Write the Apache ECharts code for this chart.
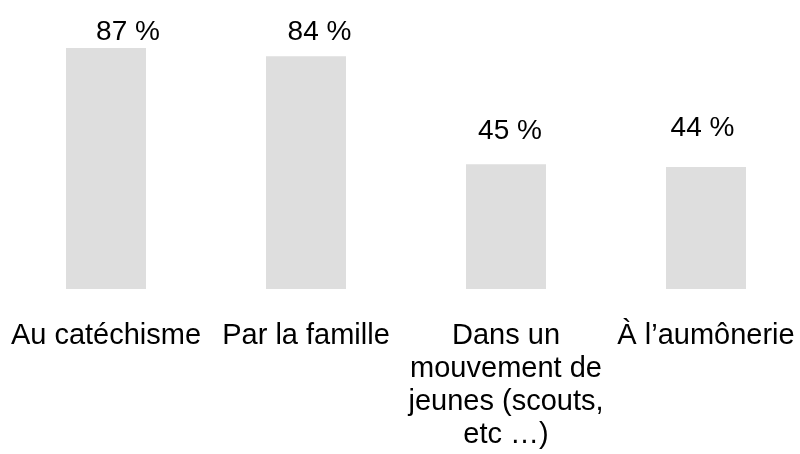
<!DOCTYPE html>
<html>
<head>
<meta charset="utf-8">
<script src="https://cdn.jsdelivr.net/npm/echarts@6/dist/echarts.min.js"></script>
<style>
html, body { margin: 0; padding: 0; background: #fff; }
#chart { width: 800px; height: 454px; }
</style>
</head>
<body>
<div id="chart"></div>
<script>
// données
var categories = ['Au catéchisme', 'Par la famille', 'Dans un\nmouvement de\njeunes (scouts,\netc …)', 'À l’aumônerie'];
var values = [87, 84, 45, 44];
// décalage des étiquettes (placées à la main dans l'original)
var labelOffsets = [[22, 3], [13.5, -5], [4, -14.5], [-3.5, -19.5]];

var chart = echarts.init(document.getElementById('chart'));
var font = '"Liberation Sans", Arial, sans-serif';

chart.setOption({
    animation: false,
    grid: { left: 6, width: 800, top: 12, bottom: 165, containLabel: false, outerBoundsMode: 'none' },
    xAxis: {
        type: 'category',
        data: categories,
        axisLine: { show: false },
        axisTick: { show: false },
        axisLabel: {
            interval: 0,
            margin: 30,
            color: '#000',
            fontFamily: font,
            fontSize: 29,
            lineHeight: 33,
            align: 'center'
        }
    },
    yAxis: {
        type: 'value',
        min: 0,
        max: 100,
        show: false,
        splitLine: { show: false }
    },
    series: [{
        type: 'bar',
        barWidth: 80,
        itemStyle: { color: '#dedede' },
        data: values.map(function (v, i) {
            return {
                value: v,
                label: { offset: labelOffsets[i] }
            };
        }),
        label: {
            show: true,
            position: 'top',
            distance: 5,
            formatter: '{c} %',
            color: '#000',
            fontFamily: font,
            fontSize: 28
        }
    }]
});
</script>
</body>
</html>
